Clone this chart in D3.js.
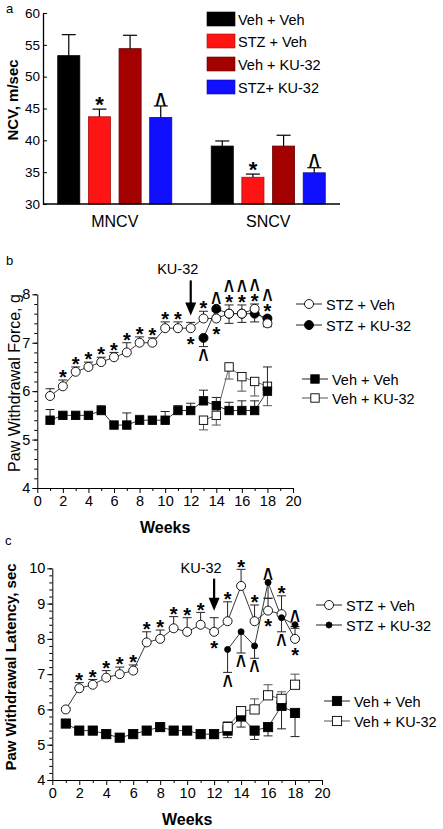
<!DOCTYPE html>
<html>
<head>
<meta charset="utf-8">
<script src="https://cdn.jsdelivr.net/npm/d3@7"></script>
<style>
body { margin: 0; background: #fff; }
svg { display: block; font-family: "Liberation Sans", Arial, sans-serif; }
</style>
</head>
<body>
<div id="chart"></div>
<script>
// ---------- panel a : nerve conduction velocity
var ncvGroups = ["MNCV", "SNCV"];
var ncvSeries = ["Veh + Veh", "STZ + Veh", "Veh + KU-32", "STZ+ KU-32"];
var ncvColors = ["#000000", "#ff1414", "#a30000", "#1010ff"];
var mncvMean = [53.3, 43.7, 54.4, 43.6];
var mncvErr = [3.3, 1.2, 2.1, 1.8];
var sncvMean = [39.1, 34.2, 39.1, 34.9];
var sncvErr = [0.8, 0.5, 1.7, 0.8];
var ncvSig = ["", "*", "", "^"];
var ncvTicks = [30, 35, 40, 45, 50, 55, 60];

// ---------- panels b and c : weeks
var weeks = [1, 2, 3, 4, 5, 6, 7, 8, 9, 10, 11, 12, 13, 14, 15, 16, 17, 18];
var kuWeeks = [13, 14, 15, 16, 17, 18];
var weekTicks = [0, 2, 4, 6, 8, 10, 12, 14, 16, 18, 20];

// b : paw withdrawal force (g)
var forceStzVeh = [5.9, 6.1, 6.4, 6.5, 6.6, 6.7, 6.8, 7.0, 7.0, 7.3, 7.3, 7.3, 7.5, 7.5, 7.6, 7.6, 7.7, 7.4];
var forceStzVehErr = [0.15, 0.13, 0.1, 0.1, 0.1, 0.1, 0.2, 0.12, 0.1, 0.13, 0.13, 0.12, 0.15, 0.05, 0.18, 0.18, 0.1, 0.05];
var forceStzKu = [7.1, 7.7, 7.6, 7.6, 7.6, 7.5];
var forceStzKuErr = [0.18, 0.05, 0.2, 0.18, 0.17, 0.17];
var forceVehVeh = [5.4, 5.5, 5.5, 5.5, 5.6, 5.3, 5.3, 5.4, 5.4, 5.4, 5.6, 5.6, 5.8, 5.7, 5.6, 5.6, 5.6, 6.0];
var forceVehVehErr = [0.22, 0.05, 0.05, 0.05, 0.1, 0.05, 0.25, 0.1, 0.05, 0.18, 0.1, 0.15, 0.22, 0.17, 0.17, 0.2, 0.2, 0.5];
var forceVehKu = [5.4, 5.5, 6.5, 6.3, 6.2, 6.1];
var forceVehKuErr = [0.2, 0.2, 0.25, 0.3, 0.3, 0.4];
var forceTicks = [4, 5, 6, 7, 8];
var forceAbove = ["", "*", "*", "*", "*", "*", "*", "*", "*", "*", "*", "", "*", "^", "*^", "*^", "*^", "*^"];
var forceBelow = ["", "", "", "", "", "", "", "", "", "", "", "*", "^", "*", "", "", "", ""];

// c : paw withdrawal latency (sec)
var latStzVeh = [6.0, 6.6, 6.7, 6.9, 7.0, 7.1, 7.9, 8.0, 8.3, 8.2, 8.4, 8.2, 8.5, 9.5, 8.5, 8.8, 8.7, 8.0];
var latStzVehErr = [0.05, 0.16, 0.15, 0.2, 0.2, 0.16, 0.3, 0.25, 0.33, 0.4, 0.35, 0.4, 0.55, 0.47, 0.46, 0.35, 0.52, 0.35];
var latStzKu = [7.7, 8.2, 7.8, 9.6, 8.6, 8.4];
var latStzKuErr = [0.65, 0.6, 0.35, 0.45, 0.4, 0.1];
var latVehVeh = [5.6, 5.4, 5.4, 5.3, 5.2, 5.3, 5.4, 5.5, 5.4, 5.4, 5.3, 5.3, 5.4, 5.8, 5.4, 5.5, 6.1, 5.9];
var latVehVehErr = [0.05, 0.08, 0.08, 0.05, 0.05, 0.05, 0.1, 0.12, 0.05, 0.05, 0.05, 0.12, 0.2, 0.3, 0.25, 0.25, 0.65, 0.67];
var latVehKu = [5.5, 5.95, 6.0, 6.4, 6.3, 6.7];
var latVehKuErr = [0.15, 0.12, 0.3, 0.3, 0.2, 0.3];
var latTicks = [4, 5, 6, 7, 8, 9, 10];
var latAbove = ["", "*", "*", "*", "*", "*", "*", "*", "*", "*", "*", "", "*", "*", "*", "^", "*", "^"];
var latBelow = ["", "", "", "", "", "", "", "", "", "", "", "*", "^", "^", "^", "*", "^", "*"];

var legendNames = ["STZ + Veh", "STZ + KU-32", "Veh + Veh", "Veh + KU-32"];

var svg = d3.select("#chart").append("svg")
    .attr("width", 443)
    .attr("height", 829);

// draws a "*" or "^" centred on (x, y)
function sigMark(g, sym, x, y, size) {
    if (sym == "^") {
        var fs = size * 0.85;
        g.append("text")
            .attr("transform", "translate(" + x + "," + y + ") scale(1,1.6)")
            .attr("text-anchor", "middle")
            .attr("y", fs * 0.52)
            .attr("font-size", fs + "px")
            .attr("font-weight", "bold")
            .text("^");
    } else {
        g.append("text")
            .attr("x", x)
            .attr("y", y + size * 0.56)
            .attr("text-anchor", "middle")
            .attr("font-size", size + "px")
            .attr("font-weight", "bold")
            .text("*");
    }
}

//======================= panel a
var ya = d3.scaleLinear().domain([30, 60]).range([204, 13]);
var xa = d3.scaleBand().domain(ncvGroups).range([43, 340]).paddingInner(0.257).paddingOuter(0.096);
var xs = d3.scaleBand().domain(ncvSeries).range([0, xa.bandwidth()]).paddingInner(0.28);

var ncvData = [];
ncvGroups.forEach(function(g, gi) {
    var means = gi == 0 ? mncvMean : sncvMean;
    var errs = gi == 0 ? mncvErr : sncvErr;
    ncvSeries.forEach(function(s, si) {
        ncvData.push({ g: g, s: s, v: means[si], e: errs[si], sig: ncvSig[si], c: ncvColors[si] });
    });
});

var pa = svg.append("g");

pa.append("text").attr("x", 6).attr("y", 13).attr("font-size", "13px").text("a");

pa.selectAll("rect.bar").data(ncvData).enter().append("rect")
    .attr("class", "bar")
    .attr("x", function(d) { return xa(d.g) + xs(d.s); })
    .attr("y", function(d) { return ya(d.v); })
    .attr("width", xs.bandwidth())
    .attr("height", function(d) { return ya(30) - ya(d.v); })
    .attr("fill", function(d) { return d.c; })
    .attr("stroke", function(d) { return d3.color(d.c).darker(1.2); })
    .attr("stroke-width", 0.8);

ncvData.forEach(function(d) {
    var cx = xa(d.g) + xs(d.s) + xs.bandwidth() / 2;
    pa.append("line").attr("x1", cx).attr("x2", cx)
        .attr("y1", ya(d.v)).attr("y2", ya(d.v + d.e))
        .attr("stroke", "#000").attr("stroke-width", 1.2);
    pa.append("line").attr("x1", cx - 7).attr("x2", cx + 7)
        .attr("y1", ya(d.v + d.e)).attr("y2", ya(d.v + d.e))
        .attr("stroke", "#000").attr("stroke-width", 1.2);
    if (d.sig) sigMark(pa, d.sig, cx, ya(d.v + d.e) - 9, 22);
});

var axA = pa.append("g").attr("transform", "translate(43,0)")
    .call(d3.axisLeft(ya).tickValues(ncvTicks).tickSizeInner(-4).tickSizeOuter(0).tickPadding(3));
axA.selectAll("text").attr("font-size", "13.5px").attr("fill", "#000");
axA.select(".domain").attr("stroke-width", 1.3);

pa.append("line").attr("x1", 43).attr("x2", 340).attr("y1", 204).attr("y2", 204)
    .attr("stroke", "#000").attr("stroke-width", 1.3);

ncvGroups.forEach(function(g) {
    pa.append("text")
        .attr("x", xa(g) + xa.bandwidth() / 2)
        .attr("y", 227)
        .attr("text-anchor", "middle")
        .attr("font-size", "16px")
        .text(g);
});

pa.append("text")
    .attr("transform", "translate(18,100) rotate(-90)")
    .attr("text-anchor", "middle")
    .attr("font-size", "15px")
    .attr("font-weight", "bold")
    .text("NCV, m/sec");

// legend a
ncvSeries.forEach(function(s, i) {
    var ly = [19, 41, 64, 87][i];
    pa.append("rect").attr("x", 207).attr("y", ly - 7).attr("width", 28).attr("height", 14)
        .attr("fill", ncvColors[i]).attr("stroke", d3.color(ncvColors[i]).darker(1.2)).attr("stroke-width", 0.6);
    pa.append("text").attr("x", 238).attr("y", ly + 5.5).attr("font-size", "14.5px").text(s);
});

//======================= panels b and c
function marker(g, s, cx, cy) {
    if (s.shape == "circle") {
        g.append("circle").attr("cx", cx).attr("cy", cy).attr("r", s.size)
            .attr("fill", s.fill).attr("stroke", "#000").attr("stroke-width", 0.9);
    } else {
        g.append("rect").attr("x", cx - s.size).attr("y", cy - s.size)
            .attr("width", s.size * 2).attr("height", s.size * 2)
            .attr("fill", s.fill).attr("stroke", "#000").attr("stroke-width", 0.9);
    }
}

function drawPanel(cfg) {
    var g = svg.append("g");
    var x = d3.scaleLinear().domain([0, 20]).range([cfg.left, cfg.right]);
    var y = d3.scaleLinear().domain(cfg.yDomain).range([cfg.bottom, cfg.top]);

    g.append("text").attr("x", cfg.letterX).attr("y", cfg.letterY).attr("font-size", "13px").text(cfg.letter);

    // axes with minor ticks
    var yMinor = d3.range(cfg.yDomain[0], cfg.yDomain[1] + 0.01, 0.2);
    g.append("g").attr("transform", "translate(" + cfg.left + ",0)")
        .call(d3.axisLeft(y).tickValues(yMinor).tickSize(3).tickFormat(""))
        .select(".domain").remove();
    var axY = g.append("g").attr("transform", "translate(" + cfg.left + ",0)")
        .call(d3.axisLeft(y).tickValues(cfg.yTicks).tickFormat(d3.format("d"))
            .tickSizeInner(5).tickSizeOuter(0).tickPadding(2));
    axY.selectAll("text").attr("font-size", "14.5px").attr("fill", "#000");

    g.append("g").attr("transform", "translate(0," + cfg.bottom + ")")
        .call(d3.axisBottom(x).tickValues(d3.range(1, 20, 2)).tickSize(3).tickFormat(""))
        .select(".domain").remove();
    var axX = g.append("g").attr("transform", "translate(0," + cfg.bottom + ")")
        .call(d3.axisBottom(x).tickValues(weekTicks).tickFormat(d3.format("d"))
            .tickSizeInner(5).tickSizeOuter(0).tickPadding(3));
    axX.selectAll("text").attr("font-size", "14.5px").attr("fill", "#000");

    g.append("text")
        .attr("x", (cfg.left + cfg.right) / 2)
        .attr("y", cfg.bottom + 45)
        .attr("text-anchor", "middle")
        .attr("font-size", "16px")
        .attr("font-weight", "bold")
        .text("Weeks");

    g.append("text")
        .attr("transform", "translate(" + cfg.labelX + "," + cfg.labelY + ") rotate(-90)")
        .attr("text-anchor", "middle")
        .attr("font-size", cfg.labelSize + "px")
        .attr("font-weight", cfg.labelWeight)
        .text(cfg.label);

    var line = d3.line().x(function(d) { return x(d.w); }).y(function(d) { return y(d.v); });

    cfg.series.forEach(function(s) {
        s.pts = s.weeks.map(function(w, i) { return { w: w, v: s.vals[i], e: s.errs[i] }; });
    });

    // lines first
    cfg.series.forEach(function(s) {
        g.append("path").datum(s.pts).attr("d", line)
            .attr("fill", "none").attr("stroke", s.lineColor).attr("stroke-width", 0.9);
    });

    // error bars and markers, in drawing order
    cfg.order.forEach(function(k) {
        var s = cfg.series[k];
        s.pts.forEach(function(p) {
            var yEnd = y(p.v + s.dir * p.e);
            g.append("line").attr("x1", x(p.w)).attr("x2", x(p.w))
                .attr("y1", y(p.v)).attr("y2", yEnd)
                .attr("stroke", s.lineColor).attr("stroke-width", 1);
            g.append("line").attr("x1", x(p.w) - 4.5).attr("x2", x(p.w) + 4.5)
                .attr("y1", yEnd).attr("y2", yEnd)
                .attr("stroke", s.lineColor).attr("stroke-width", 1);
        });
        s.pts.forEach(function(p) { marker(g, s, x(p.w), y(p.v)); });
    });

    // significance marks, stacked above / below the STZ groups
    weeks.forEach(function(w, i) {
        var tops = [], bottoms = [];
        cfg.sigSeries.forEach(function(k) {
            var s = cfg.series[k];
            s.pts.forEach(function(p) {
                if (p.w != w) return;
                var up = s.dir > 0 ? p.v + p.e : p.v;
                var dn = s.dir < 0 ? p.v - p.e : p.v;
                tops.push(Math.min(y(up), y(p.v) - s.size));
                bottoms.push(Math.max(y(dn), y(p.v) + s.size));
            });
        });
        var above = cfg.above[i], below = cfg.below[i];
        for (var j = 0; j < above.length; j++) {
            sigMark(g, above[j], x(w), d3.min(tops) - 7 - j * 13, 20);
        }
        for (var j = 0; j < below.length; j++) {
            sigMark(g, below[j], x(w), d3.max(bottoms) + 7 + j * 13, 20);
        }
    });

    // KU-32 arrow at week 12
    var ax = x(12);
    var s0 = cfg.series[0];
    var tip = y(s0.vals[11] + s0.errs[11]) - cfg.arrowGap;
    g.append("line").attr("x1", ax).attr("x2", ax).attr("y1", tip - cfg.arrowLen).attr("y2", tip - 10)
        .attr("stroke", "#000").attr("stroke-width", 2.2);
    g.append("path")
        .attr("d", "M" + (ax - 5.5) + "," + (tip - 13) + "L" + (ax + 5.5) + "," + (tip - 13) + "L" + ax + "," + tip + "Z")
        .attr("fill", "#000");
    g.append("text").attr("x", ax - 13).attr("y", tip - cfg.arrowLen - 6)
        .attr("text-anchor", "middle").attr("font-size", "14.5px").text("KU-32");

    // legend
    legendNames.forEach(function(n, i) {
        var s = cfg.series[i];
        var L = cfg.legend[i];
        g.append("line").attr("x1", L.x0).attr("x2", L.x0 + 26).attr("y1", L.y).attr("y2", L.y)
            .attr("stroke", s.lineColor).attr("stroke-width", 1);
        marker(g, s, L.x0 + 13, L.y);
        g.append("text").attr("x", L.x0 + 30).attr("y", L.y + 5.5).attr("font-size", "14.5px").text(n);
    });
}

drawPanel({
    letter: "b", letterX: 6, letterY: 265,
    left: 37.3, right: 293, top: 294.3, bottom: 488,
    yDomain: [4, 8], yTicks: forceTicks,
    label: "Paw Withdrawal Force, g", labelX: 20, labelY: 383, labelSize: 16, labelWeight: "normal",
    arrowGap: 7, arrowLen: 35,
    above: forceAbove, below: forceBelow,
    sigSeries: [0, 1],
    order: [3, 2, 1, 0],
    series: [
        { weeks: weeks, vals: forceStzVeh, errs: forceStzVehErr, dir: 1, shape: "circle", fill: "#fff", size: 4.5, lineColor: "#222" },
        { weeks: kuWeeks, vals: forceStzKu, errs: forceStzKuErr, dir: -1, shape: "circle", fill: "#000", size: 4.5, lineColor: "#222" },
        { weeks: weeks, vals: forceVehVeh, errs: forceVehVehErr, dir: 1, shape: "rect", fill: "#000", size: 4.2, lineColor: "#222" },
        { weeks: kuWeeks, vals: forceVehKu, errs: forceVehKuErr, dir: -1, shape: "rect", fill: "#fff", size: 4.2, lineColor: "#555" }
    ],
    legend: [{ x0: 296, y: 304 }, { x0: 296, y: 325 }, { x0: 302, y: 379 }, { x0: 302, y: 398 }]
});

drawPanel({
    letter: "c", letterX: 5, letterY: 545,
    left: 52.3, right: 322, top: 568.3, bottom: 780,
    yDomain: [4, 10], yTicks: latTicks,
    label: "Paw Withdrawal Latency, sec", labelX: 16, labelY: 667, labelSize: 15, labelWeight: "bold",
    arrowGap: 7, arrowLen: 32,
    above: latAbove, below: latBelow,
    sigSeries: [0, 1],
    order: [2, 3, 0, 1],
    series: [
        { weeks: weeks, vals: latStzVeh, errs: latStzVehErr, dir: 1, shape: "circle", fill: "#fff", size: 4.5, lineColor: "#222" },
        { weeks: kuWeeks, vals: latStzKu, errs: latStzKuErr, dir: -1, shape: "circle", fill: "#000", size: 3, lineColor: "#222" },
        { weeks: weeks, vals: latVehVeh, errs: latVehVehErr, dir: -1, shape: "rect", fill: "#000", size: 4.6, lineColor: "#222" },
        { weeks: kuWeeks, vals: latVehKu, errs: latVehKuErr, dir: 1, shape: "rect", fill: "#fff", size: 4.6, lineColor: "#555" }
    ],
    legend: [{ x0: 316, y: 605 }, { x0: 316, y: 625 }, { x0: 324, y: 701 }, { x0: 324, y: 721 }]
});
</script>
</body>
</html>
